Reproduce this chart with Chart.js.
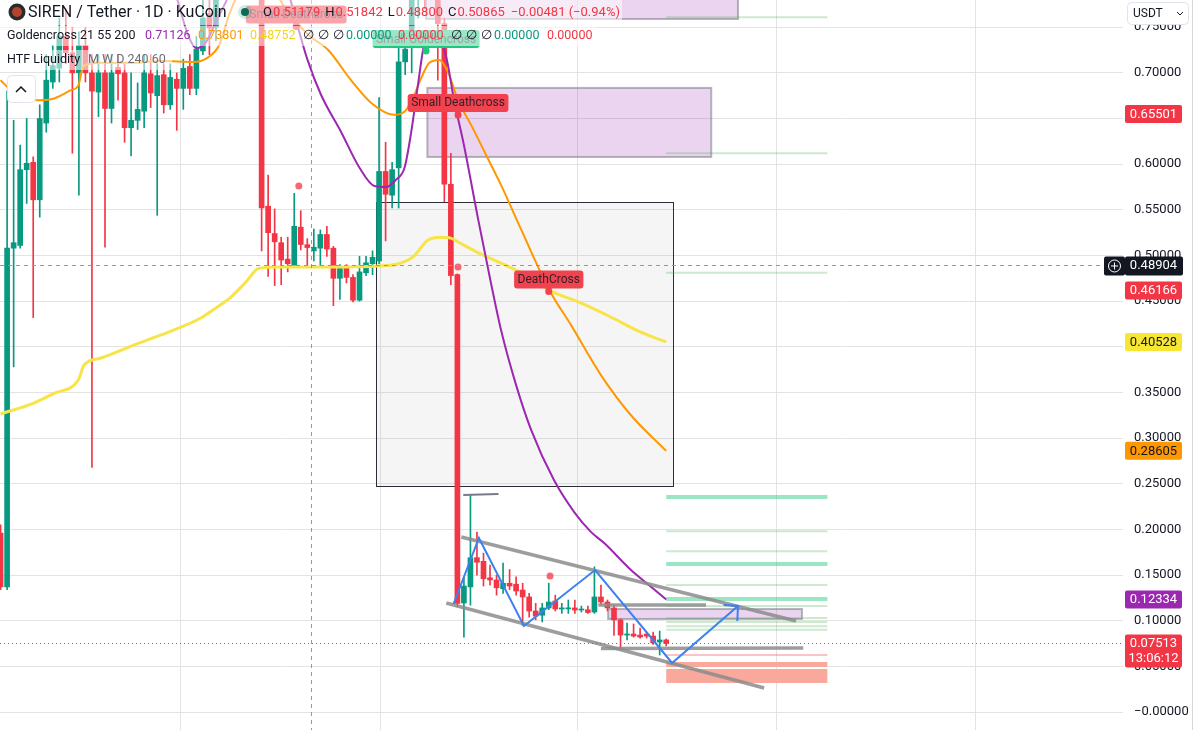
<!DOCTYPE html>
<html>
<head>
<meta charset="utf-8">
<script src="https://cdn.jsdelivr.net/npm/chart.js@4.4.0/dist/chart.umd.min.js"></script>
<style>
  html, body { margin: 0; padding: 0; background: #fff; overflow: hidden; }
  #wrap { width: 1195px; height: 730px; }
</style>
</head>
<body>
<div id="wrap"><canvas id="chart" width="1195" height="730"></canvas></div>
<script>
// SIREN / Tether daily candles (index = day)
var opens = [0.196, 0.137, 0.508, 0.511, 0.594, 0.602, 0.561, 0.645, 0.690, 0.705,
  0.740, 0.722, 0.700, 0.730, 0.700, 0.679, 0.700, 0.661, 0.706, 0.700,
  0.640, 0.648, 0.658, 0.699, 0.675, 0.698, 0.665, 0.693, 0.683, 0.707,
  0.683, 0.724, 0.765, 0.750, 0.790, 0.830, 0.860, 0.840, 0.870, 0.850,
  0.820, 0.554, 0.524, 0.514, 0.496, 0.489, 0.531, 0.5118, 0.505, 0.508,
  0.523, 0.508, 0.475, 0.488, 0.476, 0.451, 0.481, 0.491, 0.494, 0.592,
  0.566, 0.596, 0.712, 0.747, 0.790, 0.820, 0.800, 0.830, 0.754, 0.578,
  0.479, 0.1194, 0.137, 0.169, 0.165, 0.147, 0.1446, 0.135, 0.141, 0.140,
  0.1336, 0.126, 0.1106, 0.106, 0.114, 0.1216, 0.1128, 0.113, 0.114, 0.1117,
  0.112, 0.1095, 0.126, 0.1205, 0.114, 0.1008, 0.0843, 0.0854, 0.0843, 0.0854,
  0.0832, 0.0767, 0.079];
var highs = [0.205, 0.680, 0.648, 0.621, 0.650, 0.608, 0.665, 0.720, 0.730, 0.760,
  0.770, 0.750, 0.745, 0.750, 0.720, 0.720, 0.720, 0.720, 0.720, 0.710,
  0.700, 0.689, 0.720, 0.720, 0.710, 0.710, 0.710, 0.700, 0.715, 0.720,
  0.740, 0.780, 0.780, 0.800, 0.850, 0.880, 0.890, 0.900, 0.890, 0.870,
  0.830, 0.588, 0.551, 0.520, 0.520, 0.568, 0.549, 0.5184, 0.529, 0.528,
  0.532, 0.510, 0.490, 0.490, 0.479, 0.499, 0.499, 0.505, 0.673, 0.624,
  0.602, 0.735, 0.745, 0.800, 0.840, 0.850, 0.860, 0.850, 0.760, 0.612,
  0.480, 0.148, 0.238, 0.197, 0.174, 0.161, 0.150, 0.163, 0.156, 0.148,
  0.141, 0.130, 0.119, 0.119, 0.141, 0.128, 0.119, 0.1227, 0.1227, 0.116,
  0.116, 0.159, 0.139, 0.1227, 0.117, 0.102, 0.0975, 0.0964, 0.092, 0.0876,
  0.0876, 0.0887, 0.080];
var lows = [0.134, 0.134, 0.378, 0.508, 0.557, 0.432, 0.542, 0.635, 0.683, 0.690,
  0.710, 0.612, 0.566, 0.690, 0.268, 0.652, 0.509, 0.645, 0.670, 0.624,
  0.609, 0.638, 0.640, 0.662, 0.544, 0.656, 0.660, 0.637, 0.660, 0.676,
  0.676, 0.720, 0.720, 0.735, 0.785, 0.810, 0.820, 0.830, 0.830, 0.800,
  0.505, 0.477, 0.467, 0.468, 0.482, 0.487, 0.506, 0.488, 0.494, 0.489,
  0.499, 0.445, 0.452, 0.470, 0.449, 0.450, 0.478, 0.479, 0.491, 0.516,
  0.552, 0.552, 0.698, 0.700, 0.760, 0.770, 0.780, 0.692, 0.559, 0.468,
  0.115, 0.082, 0.117, 0.150, 0.138, 0.139, 0.128, 0.130, 0.134, 0.128,
  0.095, 0.104, 0.101, 0.0986, 0.112, 0.1106, 0.108, 0.108, 0.108, 0.1095,
  0.108, 0.108, 0.118, 0.1106, 0.084, 0.070, 0.079, 0.082, 0.081, 0.081,
  0.074, 0.0624, 0.0723];
var closes = [0.137, 0.508, 0.514, 0.594, 0.601, 0.561, 0.650, 0.692, 0.708, 0.740,
  0.722, 0.700, 0.730, 0.700, 0.680, 0.700, 0.661, 0.700, 0.699, 0.640,
  0.648, 0.660, 0.700, 0.678, 0.697, 0.665, 0.695, 0.683, 0.705, 0.683,
  0.726, 0.760, 0.749, 0.790, 0.830, 0.860, 0.840, 0.870, 0.850, 0.820,
  0.552, 0.525, 0.515, 0.495, 0.491, 0.532, 0.512, 0.5087, 0.509, 0.523,
  0.507, 0.475, 0.487, 0.476, 0.451, 0.482, 0.492, 0.498, 0.592, 0.567,
  0.594, 0.712, 0.726, 0.790, 0.820, 0.800, 0.830, 0.754, 0.578, 0.478,
  0.119, 0.138, 0.169, 0.164, 0.146, 0.1446, 0.136, 0.141, 0.138, 0.1325,
  0.126, 0.1106, 0.105, 0.114, 0.1205, 0.1128, 0.114, 0.114, 0.1117, 0.1128,
  0.109, 0.126, 0.1205, 0.114, 0.1008, 0.0843, 0.0854, 0.0832, 0.0821, 0.0832,
  0.0756, 0.0789, 0.0751];

// Goldencross 21 55 200 moving averages as [day, price]
var ma21 = [[26.9, 0.785], [28.7, 0.742], [30.0, 0.727], [31.5, 0.734], [33.0, 0.756], [35.0, 0.785],
  [38.4, 0.845], [41.5, 0.835], [44.2, 0.785], [45.3, 0.757], [47.0, 0.715], [49.1, 0.676],
  [52.2, 0.635], [55.0, 0.596], [57.3, 0.576], [59.1, 0.575], [60.6, 0.583], [61.9, 0.596],
  [62.9, 0.634], [64.0, 0.689], [64.9, 0.731], [66.0, 0.744], [67.0, 0.741], [68.3, 0.717],
  [69.5, 0.670], [71.0, 0.621], [73.2, 0.539], [75.2, 0.468], [76.7, 0.418], [79.0, 0.358],
  [81.3, 0.309], [84.8, 0.254], [87.9, 0.219], [90.5, 0.197], [92.5, 0.185], [96.6, 0.1555],
  [99.7, 0.137], [102, 0.1233]];
var ma55 = [[0, 0.692], [1.9, 0.679], [5.7, 0.670], [7.7, 0.671], [10.8, 0.681], [11.9, 0.686],
  [12.7, 0.7075], [15.4, 0.711], [20, 0.711], [24.6, 0.713], [29.7, 0.712], [31.8, 0.717],
  [33.5, 0.7305], [35, 0.763], [36.3, 0.785], [39.2, 0.807], [41.5, 0.796], [43.5, 0.772],
  [47.1, 0.742], [50.2, 0.725], [53.7, 0.692], [56.8, 0.667], [60.3, 0.654], [62.1, 0.659],
  [63.4, 0.676], [64.5, 0.695], [65.7, 0.711], [67.2, 0.714], [68.6, 0.700], [70.1, 0.670],
  [72.1, 0.643], [74.4, 0.610], [76.7, 0.577], [79.8, 0.528], [84.1, 0.462], [87.4, 0.424],
  [92, 0.369], [96.6, 0.325], [102, 0.286]];
var ma200 = [[0, 0.3264], [5.1, 0.3384], [8.2, 0.349], [11.9, 0.3636], [12.8, 0.380], [15.4, 0.3877],
  [20.5, 0.402], [24.6, 0.413], [27.7, 0.4217], [30.7, 0.4315], [33, 0.4425], [35.3, 0.4545],
  [37.6, 0.471], [39.6, 0.486], [43, 0.4874], [50.7, 0.4874], [57.9, 0.4885], [60.9, 0.4907],
  [63.2, 0.4984], [65.5, 0.517], [67.5, 0.520], [69, 0.519], [70.1, 0.5148], [73.6, 0.5016],
  [79.8, 0.481], [84, 0.462], [88.9, 0.448], [93.5, 0.4326], [98.1, 0.416], [102, 0.4053]];

var priceTicks = [0, 0.05, 0.10, 0.15, 0.20, 0.25, 0.30, 0.35, 0.40, 0.45, 0.50, 0.55, 0.60, 0.65, 0.70, 0.75];
var monthStarts = [27.5, 58.2, 88.4, 118.8, 149.3];

// drawings, in [day, price] units
var grayBox = [57.6, 103.1, 0.2475, 0.5586];
var zones = [[65.4, 108.9, 0.6079, 0.6835], [65.2, 113, 0.759, 0.90], [93.1, 122.8, 0.1019, 0.1128]];
var levelSpan = [102, 126.7];
var greenThick = [0.2355, 0.162, 0.1238];
var greenThin = [0.761, 0.612, 0.481, 0.198, 0.176, 0.139, 0.116, 0.103, 0.0986, 0.094, 0.090];
var redBands = [[0.0493, 0.0548], [0.0318, 0.0471]];
var redThin = [0.0624];
var trendLines = [[70.6, 0.1917, 121.9, 0.0997], [68.3, 0.1194, 117, 0.0263], [92, 0.0695, 123, 0.0701],
  [91.6, 0.1172, 108.1, 0.1172], [70.9, 0.2377, 76.3, 0.2388]];
var zigzag = [[69.4, 0.1183], [73.3, 0.1906], [80.2, 0.0942], [91.1, 0.1555], [102.9, 0.0537], [113, 0.1161]];
var arrowHead = [[110.8, 0.1172], [113, 0.1161], [112.9, 0.0997]];
var signalLabels = [['Small Deathcross', 45.3, 0.752, '#f23645'], ['Small Goldencross', 65.2, 0.725, '#22c77e'],
  ['Small Deathcross', 70.1, 0.655, '#f0434f'], ['DeathCross', 84, 0.4617, '#f0434f']];
var sweepDots = [[45.7, 0.576], [70.1, 0.4874], [84.2, 0.149]];
var crosshair = [47.6, 0.48904];
var lastPrice = 0.07513;
var priceTags = [[0.65501, '#f23645', '#ffffff'], [0.46166, '#f23645', '#ffffff'], [0.40528, '#f7e733', '#131722'],
  [0.28605, '#ff9800', '#131722'], [0.12334, '#9c27b0', '#ffffff']];

var UP = '#089981', DOWN = '#f23645';
var FONT = 'Roboto, "Noto Sans", sans-serif';

function candleColor(i) { return closes[i] >= opens[i] ? UP : DOWN; }

function rr(ctx, x, y, w, h, r) {
  ctx.beginPath();
  ctx.moveTo(x + r, y);
  ctx.arcTo(x + w, y, x + w, y + h, r);
  ctx.arcTo(x + w, y + h, x, y + h, r);
  ctx.arcTo(x, y + h, x, y, r);
  ctx.arcTo(x, y, x + w, y, r);
  ctx.closePath();
}

function seg(ctx, x1, y1, x2, y2) {
  ctx.beginPath(); ctx.moveTo(x1, y1); ctx.lineTo(x2, y2); ctx.stroke();
}

var overlay = {
  id: 'overlay',
  beforeDatasetsDraw: function(chart) {
    var ctx = chart.ctx, a = chart.chartArea, x = chart.scales.x, y = chart.scales.y;
    ctx.save();
    ctx.beginPath(); ctx.rect(a.left, a.top, a.right - a.left, a.bottom - a.top); ctx.clip();
    ctx.strokeStyle = '#e3e3e3'; ctx.lineWidth = 1;
    monthStarts.forEach(function(m) {
      var px = Math.round(x.getPixelForValue(m)) + 0.5;
      seg(ctx, px, a.top, px, a.bottom);
    });
    // big gray range box
    var bx1 = x.getPixelForValue(grayBox[0]), bx2 = x.getPixelForValue(grayBox[1]);
    var by1 = y.getPixelForValue(grayBox[3]), by2 = y.getPixelForValue(grayBox[2]);
    ctx.fillStyle = 'rgba(120,120,120,0.07)';
    ctx.fillRect(bx1, by1, bx2 - bx1, by2 - by1);
    ctx.strokeStyle = '#2a2e39'; ctx.lineWidth = 1;
    ctx.strokeRect(Math.round(bx1) + 0.5, Math.round(by1) + 0.5, Math.round(bx2 - bx1), Math.round(by2 - by1));
    // lavender zones
    zones.forEach(function(z) {
      var x1 = x.getPixelForValue(z[0]), x2 = x.getPixelForValue(z[1]);
      var y1 = y.getPixelForValue(z[3]), y2 = y.getPixelForValue(z[2]);
      ctx.fillStyle = 'rgba(156,39,176,0.2)';
      ctx.fillRect(x1, y1, x2 - x1, y2 - y1);
      ctx.strokeStyle = 'rgba(120,123,134,0.55)'; ctx.lineWidth = 2;
      ctx.strokeRect(x1, y1, x2 - x1, y2 - y1);
    });
    // liquidity levels
    var lx1 = x.getPixelForValue(levelSpan[0]), lx2 = x.getPixelForValue(levelSpan[1]);
    ctx.strokeStyle = 'rgba(76,175,80,0.28)'; ctx.lineWidth = 2;
    greenThin.forEach(function(v) { var py = y.getPixelForValue(v); seg(ctx, lx1, py, lx2, py); });
    ctx.strokeStyle = 'rgba(34,200,120,0.45)'; ctx.lineWidth = 4;
    greenThick.forEach(function(v) { var py = y.getPixelForValue(v); seg(ctx, lx1, py, lx2, py); });
    ctx.fillStyle = '#f9a99b';
    redBands.forEach(function(b) {
      var y1 = y.getPixelForValue(b[1]), y2 = y.getPixelForValue(b[0]);
      ctx.fillRect(lx1, y1, lx2 - lx1, y2 - y1);
    });
    ctx.strokeStyle = 'rgba(242,54,69,0.3)'; ctx.lineWidth = 2;
    redThin.forEach(function(v) { var py = y.getPixelForValue(v); seg(ctx, lx1, py, lx2, py); });
    ctx.restore();
  },
  afterDatasetsDraw: function(chart) {
    var ctx = chart.ctx, a = chart.chartArea, x = chart.scales.x, y = chart.scales.y;
    var X = function(v) { return x.getPixelForValue(v); };
    var Y = function(v) { return y.getPixelForValue(v); };
    ctx.save();
    ctx.beginPath(); ctx.rect(a.left, a.top, a.right - a.left, a.bottom - a.top); ctx.clip();
    // channel lines
    trendLines.forEach(function(t, k) {
      ctx.lineWidth = k === 4 ? 2 : 3.5;
      ctx.strokeStyle = k === 4 ? '#787b86' : 'rgba(140,140,140,0.85)';
      seg(ctx, X(t[0]), Y(t[1]), X(t[2]), Y(t[3]));
    });
    // projected path
    ctx.strokeStyle = '#3b82f0'; ctx.lineWidth = 2; ctx.lineJoin = 'miter';
    ctx.beginPath();
    zigzag.forEach(function(p, k) { if (k) ctx.lineTo(X(p[0]), Y(p[1])); else ctx.moveTo(X(p[0]), Y(p[1])); });
    ctx.stroke();
    ctx.beginPath();
    arrowHead.forEach(function(p, k) { if (k) ctx.lineTo(X(p[0]), Y(p[1])); else ctx.moveTo(X(p[0]), Y(p[1])); });
    ctx.stroke();
    // sweep markers
    ctx.fillStyle = 'rgba(242,54,69,0.75)';
    sweepDots.forEach(function(p) { ctx.beginPath(); ctx.arc(X(p[0]), Y(p[1]), 3.5, 0, Math.PI * 2); ctx.fill(); });
    // signal labels
    ctx.font = '12px ' + FONT; ctx.textAlign = 'center'; ctx.textBaseline = 'middle';
    signalLabels.forEach(function(l) {
      var cx = X(l[1]), ay = Y(l[2]);
      var w = ctx.measureText(l[0]).width + 7, h = 18, top = ay - 2 - h;
      ctx.fillStyle = l[3];
      rr(ctx, cx - w / 2, top, w, h, 3); ctx.fill();
      ctx.beginPath(); ctx.moveTo(cx - 4, top + h - 1); ctx.lineTo(cx + 4, top + h - 1); ctx.lineTo(cx, ay + 2); ctx.fill();
      ctx.beginPath(); ctx.arc(cx, ay + 1, 3.5, 0, Math.PI * 2); ctx.fill();
      ctx.fillStyle = 'rgba(19,23,34,0.85)';
      ctx.fillText(l[0], cx, top + h / 2 + 0.5);
    });
    // crosshair and last price line
    ctx.strokeStyle = '#9598a1'; ctx.lineWidth = 1; ctx.setLineDash([4, 4]);
    var cxp = Math.round(X(crosshair[0])) + 0.5, cyp = Math.round(Y(crosshair[1])) + 0.5;
    seg(ctx, cxp, a.top, cxp, a.bottom);
    seg(ctx, a.left, cyp, a.right, cyp);
    ctx.strokeStyle = '#f23645'; ctx.setLineDash([1, 3]);
    var lp = Math.round(Y(lastPrice)) + 0.5;
    seg(ctx, a.left, lp, a.right, lp);
    ctx.setLineDash([]);
    ctx.restore();
  },
  afterDraw: function(chart) {
    var ctx = chart.ctx, y = chart.scales.y;
    ctx.save();
    // legend backdrop
    ctx.fillStyle = 'rgba(255,255,255,0.55)';
    ctx.fillRect(0, 0, 622, 25); ctx.fillRect(0, 26, 596, 20); ctx.fillRect(0, 50, 172, 20);
    // logo
    ctx.fillStyle = '#2b2b2b'; ctx.beginPath(); ctx.arc(17, 12, 8.5, 0, Math.PI * 2); ctx.fill();
    ctx.fillStyle = '#b5442f'; ctx.beginPath(); ctx.arc(17, 12, 5, 0, Math.PI * 2); ctx.fill();
    ctx.textBaseline = 'middle'; ctx.textAlign = 'left';
    ctx.font = '16px ' + FONT; ctx.fillStyle = '#131722';
    ctx.fillText('SIREN / Tether · 1D · KuCoin', 28, 13);
    ctx.fillStyle = 'rgba(8,153,129,0.2)'; ctx.beginPath(); ctx.arc(245, 12, 7, 0, Math.PI * 2); ctx.fill();
    ctx.fillStyle = '#0b6b58'; ctx.beginPath(); ctx.arc(245, 12, 4, 0, Math.PI * 2); ctx.fill();
    // OHLC values, laid out one after another
    ctx.font = '13px ' + FONT;
    var ox = 263;
    [['O', '0.51179'], ['H', '0.51842'], ['L', '0.48800'], ['C', '0.50865'], ['', '−0.00481 (−0.94%)']].forEach(function(t) {
      ctx.fillStyle = '#131722'; ctx.fillText(t[0], ox, 13); ox += ctx.measureText(t[0]).width + 1;
      ctx.fillStyle = '#f23645'; ctx.fillText(t[1], ox, 13); ox += ctx.measureText(t[1]).width + 5;
    });
    ctx.font = '12.5px ' + FONT;
    [['Goldencross 21 55 200', 7, '#131722'], ['0.71126', 145, '#9c27b0'], ['0.73801', 198, '#ff9800'],
     ['0.48752', 250, '#f2d51c'], ['∅', 303, '#131722'], ['∅', 318, '#131722'], ['∅', 333, '#131722'],
     ['0.00000', 346, '#089981'], ['0.00000', 398, '#f23645'], ['∅', 451, '#131722'], ['∅', 466, '#131722'],
     ['∅', 481, '#131722'], ['0.00000', 494, '#089981'], ['0.00000', 547, '#f23645']].forEach(function(t) {
      ctx.fillStyle = t[2]; ctx.fillText(t[0], t[1], 36);
    });
    ctx.fillStyle = '#131722'; ctx.fillText('HTF Liquidity', 7, 60);
    ctx.fillStyle = '#6a6d78'; ctx.fillText('M W D 240 60', 88, 60);
    // collapse button
    ctx.fillStyle = '#ffffff'; ctx.strokeStyle = '#e0e3eb'; ctx.lineWidth = 1;
    rr(ctx, 7.5, 75.5, 28, 27, 4); ctx.fill(); ctx.stroke();
    ctx.strokeStyle = '#131722'; ctx.lineWidth = 1.5;
    ctx.beginPath(); ctx.moveTo(16, 92); ctx.lineTo(21, 87); ctx.lineTo(26, 92); ctx.stroke();

    // price tags on the axis
    ctx.font = '13px ' + FONT; ctx.textAlign = 'center';
    var tx = 1125, tw = 57;
    priceTags.forEach(function(t) {
      var py = y.getPixelForValue(t[0]);
      ctx.fillStyle = t[1]; rr(ctx, tx, py - 9, tw, 18, 2); ctx.fill();
      ctx.fillStyle = t[2]; ctx.fillText(t[0].toFixed(5), tx + tw / 2, py + 0.5);
    });
    var lpy = y.getPixelForValue(lastPrice);
    ctx.fillStyle = '#f23645'; rr(ctx, tx, lpy - 9, tw, 33, 2); ctx.fill();
    ctx.fillStyle = '#ffffff';
    ctx.fillText(lastPrice.toFixed(5), tx + tw / 2, lpy + 0.5);
    ctx.fillText('13:06:12', tx + tw / 2, lpy + 15);
    var cy = y.getPixelForValue(crosshair[1]);
    ctx.fillStyle = '#131722'; rr(ctx, tx, cy - 9, tw + 1, 19, 2); ctx.fill();
    rr(ctx, 1104, cy - 9, 21, 19, 2); ctx.fill();
    ctx.fillStyle = '#ffffff'; ctx.fillText(crosshair[1].toFixed(5), tx + tw / 2, cy + 0.5);
    ctx.strokeStyle = '#ffffff'; ctx.lineWidth = 1;
    ctx.beginPath(); ctx.arc(1114.5, cy + 0.5, 6, 0, Math.PI * 2); ctx.stroke();
    seg(ctx, 1111, cy + 0.5, 1118, cy + 0.5); seg(ctx, 1114.5, cy - 3, 1114.5, cy + 4);
    // USDT button
    ctx.fillStyle = '#ffffff'; ctx.strokeStyle = '#e0e3eb';
    rr(ctx, 1127.5, 2.5, 61, 22, 4); ctx.fill(); ctx.stroke();
    ctx.fillStyle = '#131722'; ctx.textAlign = 'left'; ctx.font = '12px ' + FONT;
    ctx.fillText('USDT', 1133, 14);
    ctx.strokeStyle = '#131722'; ctx.lineWidth = 1;
    ctx.beginPath(); ctx.moveTo(1177, 12); ctx.lineTo(1180, 15); ctx.lineTo(1183, 12); ctx.stroke();
    // right border
    ctx.strokeStyle = '#d6d6d6';
    seg(ctx, 1192.5, 0, 1192.5, 730);
    ctx.restore();
  }
};

var ctx = document.getElementById('chart').getContext('2d');
var chart = new Chart(ctx, {
  type: 'bar',
  data: {
    datasets: [
      {
        type: 'line', label: 'MA21', order: 0,
        data: ma21.map(function(p) { return { x: p[0], y: p[1] }; }),
        borderColor: '#9c27b0', borderWidth: 2, pointRadius: 0, cubicInterpolationMode: 'monotone'
      },
      {
        type: 'line', label: 'MA55', order: 0,
        data: ma55.map(function(p) { return { x: p[0], y: p[1] }; }),
        borderColor: '#ff9800', borderWidth: 2, pointRadius: 0, cubicInterpolationMode: 'monotone'
      },
      {
        type: 'line', label: 'MA200', order: 0,
        data: ma200.map(function(p) { return { x: p[0], y: p[1] }; }),
        borderColor: '#f8e447', borderWidth: 3, pointRadius: 0, cubicInterpolationMode: 'monotone'
      },
      {
        label: 'wicks', order: 2, grouped: false, barThickness: 1,
        data: highs.map(function(h, i) { return { x: i, y: [lows[i], h] }; }),
        backgroundColor: opens.map(function(o, i) { return candleColor(i); })
      },
      {
        label: 'bodies', order: 1, grouped: false, barThickness: 5, minBarLength: 1,
        data: opens.map(function(o, i) { return { x: i, y: [o, closes[i]] }; }),
        backgroundColor: opens.map(function(o, i) { return candleColor(i); })
      }
    ]
  },
  options: {
    responsive: false,
    animation: false,
    devicePixelRatio: 1,
    layout: { padding: 0 },
    plugins: { legend: { display: false }, tooltip: { enabled: false } },
    scales: {
      x: {
        type: 'linear', display: false, offset: false, min: -0.09, max: 172,
        grid: { offset: false }
      },
      y: {
        position: 'right', min: -0.0197, max: 0.7798,
        afterBuildTicks: function(scale) { scale.ticks = priceTicks.map(function(v) { return { value: v }; }); },
        afterFit: function(scale) { scale.width = 72; scale.paddingTop = 0; scale.paddingBottom = 0; },
        border: { display: false },
        grid: { color: '#e3e3e3', drawTicks: false },
        ticks: {
          padding: 11, color: '#131722', font: { family: FONT, size: 13 },
          callback: function(v) { return Math.abs(v) < 1e-9 ? '−0.00000' : Number(v).toFixed(5); }
        }
      }
    }
  },
  plugins: [overlay]
});
</script>
</body>
</html>
